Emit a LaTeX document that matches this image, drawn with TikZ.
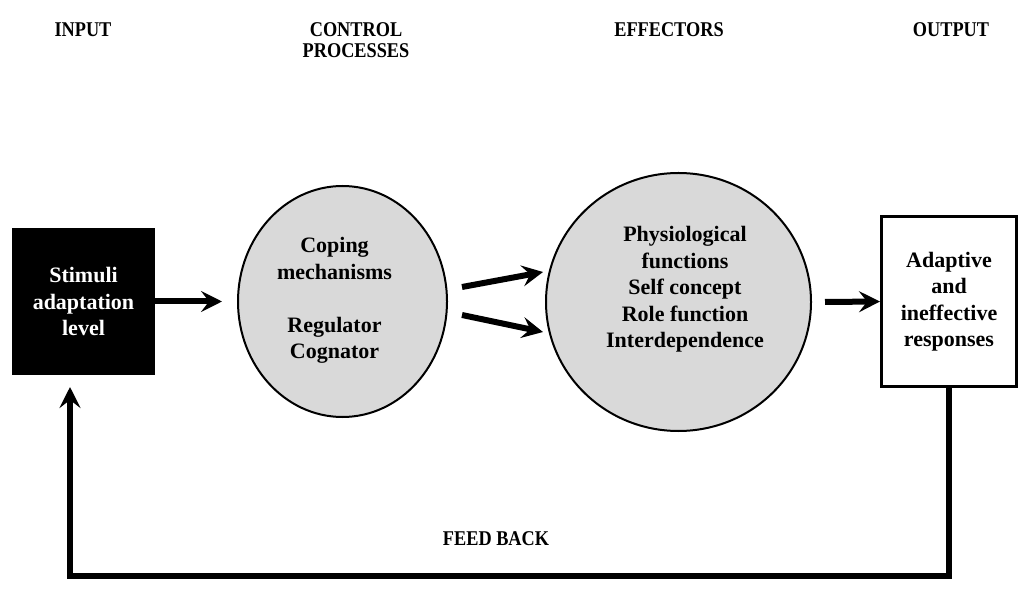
\documentclass[tikz,border=0pt]{standalone}
\usepackage{fontspec}
\setmainfont{Liberation Serif}
\newfontfamily\headfont{Liberation Serif}[FakeStretch=0.87]
\usepackage{tikz}
\usetikzlibrary{arrows.meta,shapes.geometric,positioning}

\tikzset{
  heading/.style={font=\headfont\bfseries\fontsize{21}{21}\selectfont,inner sep=0pt,anchor=base},
  bodytext/.style={font=\bfseries\fontsize{22}{26.5}\selectfont,align=center,inner sep=0pt},
  stagebox/.style={rectangle,inner sep=0pt},
  stageoval/.style={ellipse,inner sep=0pt,draw=drawColor,fill=fillColor,line width=2pt},
  bigarrow/.style={draw=drawColor,line width=6pt,-{Stealth[length=21pt,width=21pt,inset=8pt]}},
}

\begin{document}
\begin{tikzpicture}[x=1pt,y=1pt]
\definecolor{fillColor}{RGB}{217,217,217}
\definecolor{drawColor}{RGB}{0,0,0}
\path[use as bounding box,fill=white] (0,0) rectangle (1019,592);

\node[heading] (input) at ( 83,555) {INPUT};
\node[heading,align=center] (control) at (356,534) {CONTROL\\[0pt]PROCESSES};
\node[heading] (effect) at (669,555) {EFFECTORS};
\node[heading] (output) at (951,555) {OUTPUT};

\node[stagebox,fill=drawColor,text=white,minimum width=143,minimum height=147,bodytext] (stimuli) at ( 83.5,290.5) {Stimuli\\adaptation\\level};
\node[stageoval,minimum width=209,minimum height=231] (coping) at (342.5,290.5) {};
\node[bodytext] (copingtext) at ([xshift=-8pt,yshift=1pt]coping.center) {Coping\\mechanisms\\[26.5pt]Regulator\\Cognator};
\node[stageoval,minimum width=265,minimum height=258] (effectors) at (678.5,290) {};
\node[bodytext] (effectorstext) at ([xshift=6.5pt,yshift=12.5pt]effectors.center) {Physiological\\functions\\Self concept\\Role function\\Interdependence};
\node[stagebox,draw=drawColor,fill=white,line width=3pt,minimum width=135,minimum height=170,bodytext] (response) at (949,290.5) {Adaptive\\and\\ineffective\\responses};

\draw[bigarrow,shorten >=15pt] (stimuli.east) -- (coping.west);
\draw[bigarrow] ([xshift=14pt,yshift=14.5pt]coping.east) -- ([xshift=-2pt,yshift=30pt]effectors.west);
\draw[bigarrow] ([xshift=14pt,yshift=-13.5pt]coping.east) -- ([xshift=-2pt,yshift=-30pt]effectors.west);
\draw[bigarrow] ([xshift=13pt]effectors.east) -- (response.west);

\coordinate (fbcorner) at (70,16);
\coordinate (fbtip) at (70,205);
\draw[bigarrow,line join=miter] (response.south) |- (fbcorner) -- (fbtip);
\node[heading] (feedback) at (496,47) {FEED BACK};
\end{tikzpicture}
\end{document}
